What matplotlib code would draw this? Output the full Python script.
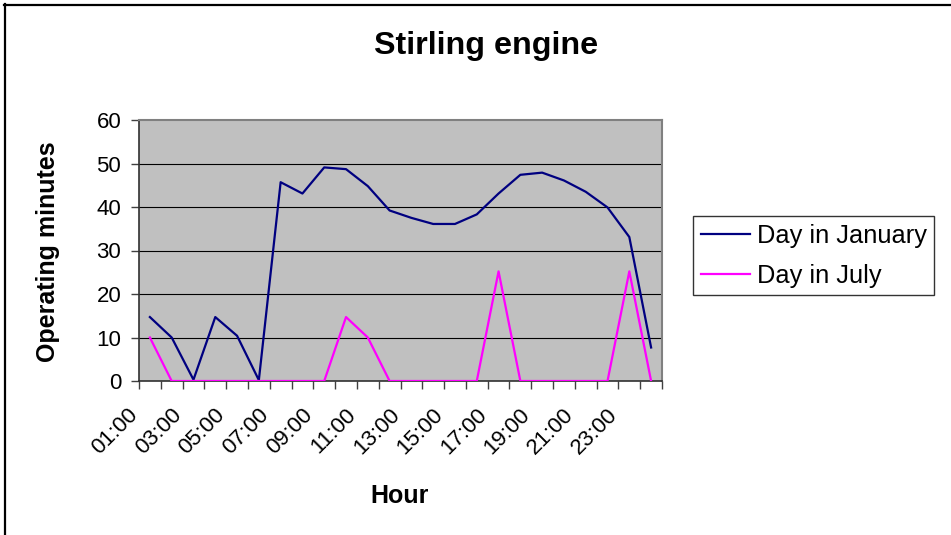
import matplotlib
matplotlib.use('Agg')
import matplotlib.pyplot as plt
from matplotlib.lines import Line2D
from matplotlib.transforms import ScaledTranslation

plt.rcParams['font.family'] = ['Liberation Sans', 'DejaVu Sans']

# Werte
hours = ['%02d:00' % h for h in range(1, 25)]
january = [14.7, 10.0, 0.3, 14.7, 10.4, 0.2, 45.7, 43.1, 49.1, 48.7, 44.8, 39.2,
           37.5, 36.1, 36.1, 38.3, 43.1, 47.4, 47.9, 46.1, 43.5, 39.9, 33.1, 7.7]
july = [10.0, 0, 0, 0, 0, 0, 0, 0, 0, 14.7, 10.0, 0,
        0, 0, 0, 0, 25.2, 0, 0, 0, 0, 0, 25.2, 0]
y_ticks = [0, 10, 20, 30, 40, 50, 60]

W, H = 951, 535
fig = plt.figure(figsize=(W / 100, H / 100), dpi=100)
fig.patch.set_facecolor('white')

# Plotbereich in Pixeln: links 139, rechts 662, oben 120, unten 381
ax = fig.add_axes([139 / W, 1 - 381 / H, (662 - 139) / W, (381 - 120) / H])
ax.set_facecolor('#C0C0C0')

x = [i + 0.5 for i in range(len(hours))]
ax.plot(x, january, color='#000080', lw=1.6, label='Day in January', zorder=3)
ax.plot(x, july, color='#FF00FF', lw=1.6, label='Day in July', zorder=3)

ax.set_xlim(0, 24)
ax.set_ylim(0, 60)

# Gitterlinien
for v in y_ticks[1:-1]:
    ax.axhline(v, color='black', lw=0.8, zorder=1)

ax.set_yticks(y_ticks)
ax.set_yticklabels([str(v) for v in y_ticks], fontsize=16)
ax.tick_params(axis='y', direction='out', length=5.8, width=1, color='#404040', pad=7)

ax.set_xticks(range(25))
ax.set_xticklabels([])
ax.tick_params(axis='x', direction='out', length=5.8, width=1, color='#404040')

trans = ax.get_xaxis_transform() + ScaledTranslation(-0.15, -0.31, fig.dpi_scale_trans)
for i in range(0, 24, 2):
    ax.text(x[i], 0, hours[i], transform=trans, rotation=45, ha='right',
            va='center', rotation_mode='anchor', fontsize=16)

for side in ['top', 'right']:
    ax.spines[side].set_color('#808080')
    ax.spines[side].set_linewidth(1.5)
for side in ['left', 'bottom']:
    ax.spines[side].set_color('#303030')
    ax.spines[side].set_linewidth(1.2)

fig.text(486 / W, 1 - 54 / H, 'Stirling engine', ha='center', va='baseline',
         fontsize=23.2, fontweight='bold')
fig.text(400 / W, 1 - 503 / H, 'Hour', ha='center', va='baseline',
         fontsize=18, fontweight='bold')
fig.text(48 / W, 1 - 252 / H, 'Operating minutes', ha='center', va='center',
         rotation=90, fontsize=18, fontweight='bold')

leg = ax.legend(loc='upper left', bbox_to_anchor=(693 / W, 1 - 216 / H),
                bbox_transform=fig.transFigure, borderaxespad=0, fontsize=18.3,
                frameon=True, fancybox=False, handlelength=1.93, handletextpad=0.28,
                labelspacing=0.63, borderpad=0.3)
leg.get_frame().set_edgecolor('black')
leg.get_frame().set_linewidth(1.0)

# Rahmen oben und links
fig.add_artist(Line2D([4 / W, 1], [1 - 5 / H, 1 - 5 / H], color='black', lw=1.6,
                      transform=fig.transFigure))
fig.add_artist(Line2D([5 / W, 5 / W], [0, 1 - 4 / H], color='black', lw=1.6,
                      transform=fig.transFigure))

fig.savefig('out.png', dpi=100)
